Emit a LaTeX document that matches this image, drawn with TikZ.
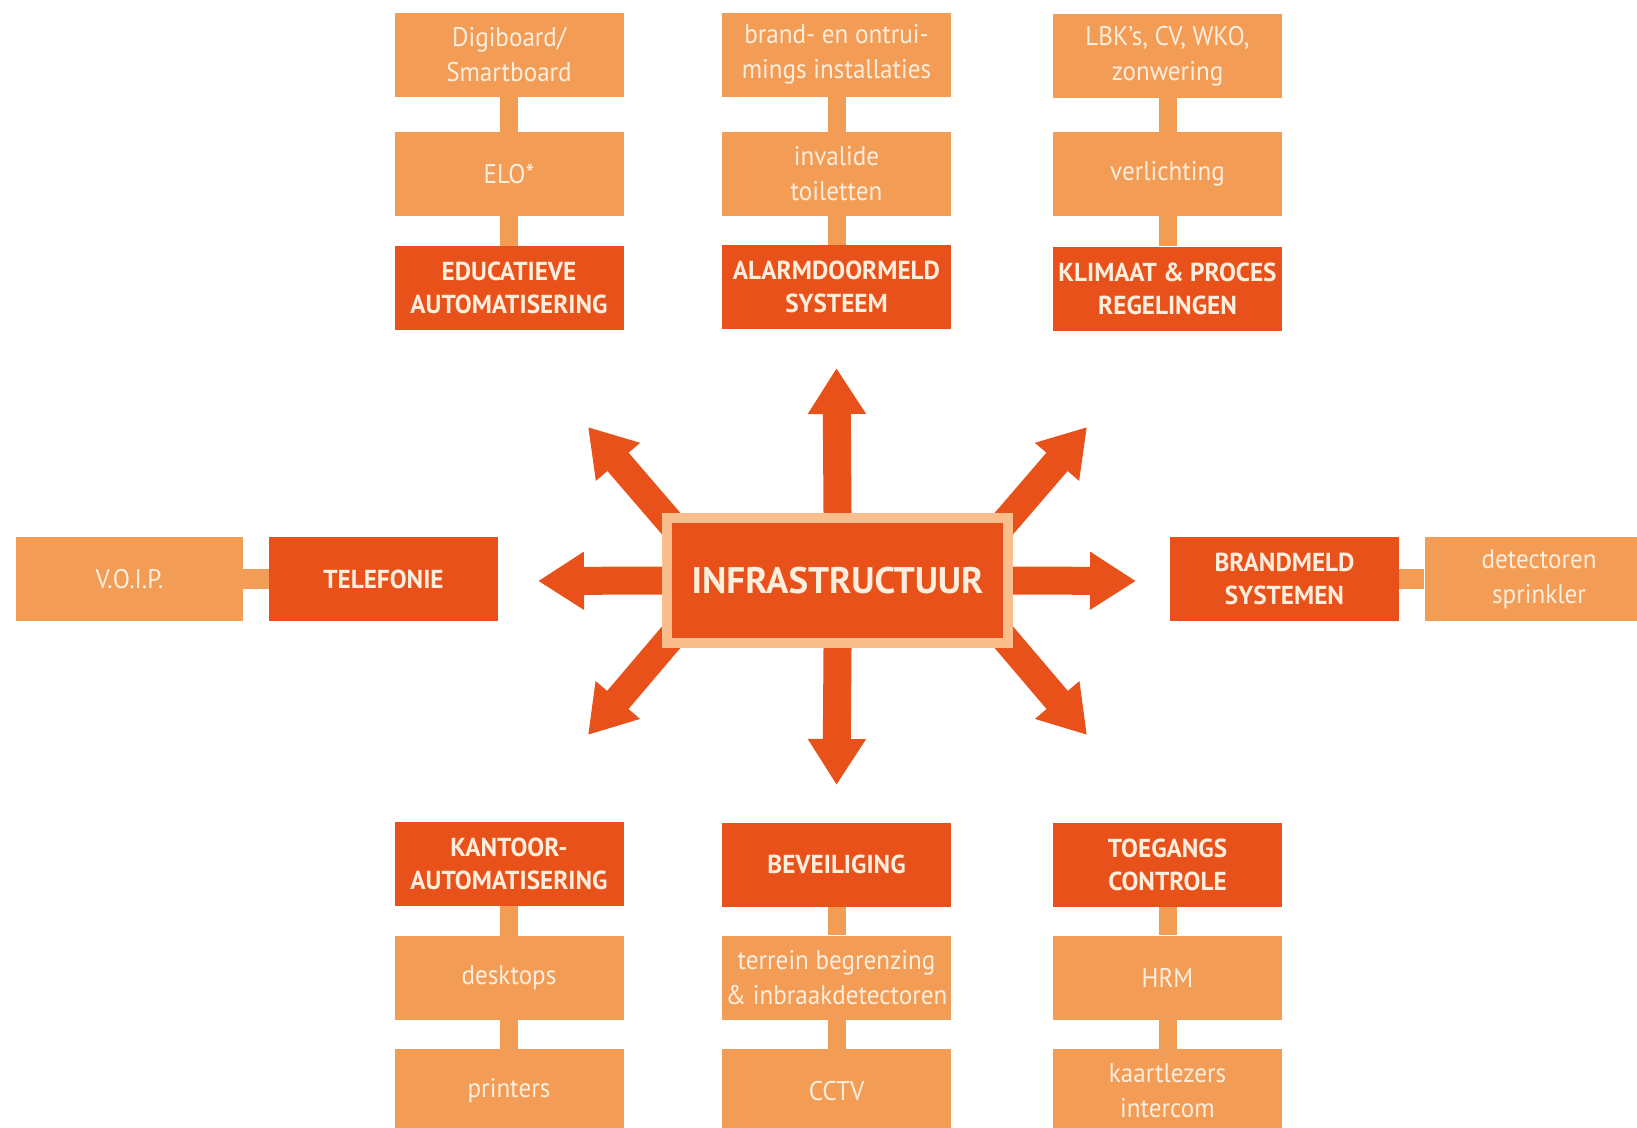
\documentclass[tikz,border=0pt]{standalone}
\usepackage{fontspec}
\setmainfont[FakeStretch=0.97]{PT Sans}
\newfontfamily\lightfont[FakeStretch=0.93]{PT Sans}
\newfontfamily\centrefont{PT Sans}
\usetikzlibrary{arrows.meta,backgrounds,calc}
\definecolor{darkor}{RGB}{232,82,26}
\definecolor{lightor}{RGB}{242,156,86}
\definecolor{rimor}{RGB}{250,190,140}
\definecolor{txtlight}{RGB}{253,238,222}
\tikzset{
  base/.style={minimum width=229pt, minimum height=84pt, inner sep=0pt, align=center, text=txtlight},
  darkbox/.style={base, fill=darkor, font=\fontsize{26}{33}\selectfont\bfseries},
  lightbox/.style={base, fill=lightor, font=\lightfont\fontsize{27}{35}\selectfont},
  conn/.style={draw=lightor, line width=18pt},
  hconn/.style={draw=lightor, line width=20pt},
  bigarrow/.style={draw=darkor, line width=28pt, -{Triangle[width=55pt,length=46pt]}},
}
\begin{document}
\begin{tikzpicture}[x=1pt,y=-1pt]
\clip (0,0) rectangle (1637,1127);
% top row columns
\node[lightbox] (a1) at (509,54.5) {Digiboard/\\Smartboard};
\node[lightbox] (a2) at (509,174) {ELO*};
\node[darkbox]  (a3) at (509,288) {EDUCATIEVE\\AUTOMATISERING};
\node[lightbox] (b1) at (836.5,54.5) {brand- en ontrui-\\mings installaties};
\node[lightbox] (b2) at (836.5,174) {invalide\\toiletten};
\node[darkbox]  (b3) at (836.5,287) {ALARMDOORMELD\\SYSTEEM};
\node[lightbox] (c1) at (1167.5,56) {LBK’s, CV, WKO,\\zonwering};
\node[lightbox] (c2) at (1167.5,174) {verlichting};
\node[darkbox]  (c3) at (1167.5,288.5) {KLIMAAT \& PROCES\\REGELINGEN};
% bottom columns
\node[darkbox]  (d1) at (509,864) {KANTOOR-\\AUTOMATISERING};
\node[lightbox] (d2) at (509,978) {desktops};
\node[lightbox] (d3) at (509,1091) {printers};
\node[darkbox]  (e1) at (836.5,864.5) {BEVEILIGING};
\node[lightbox] (e2) at (836.5,977.5) {terrein begrenzing\\\& inbraakdetectoren};
\node[lightbox] (e3) at (836.5,1091) {CCTV};
\node[darkbox]  (f1) at (1167.5,864.5) {TOEGANGS\\CONTROLE};
\node[lightbox] (f2) at (1167.5,977.5) {HRM};
\node[lightbox] (f3) at (1167.5,1091) {kaartlezers\\intercom};
% side rows
\node[lightbox, minimum width=227pt] (g1) at (129.5,579) {V.O.I.P.};
\node[darkbox]  (g2) at (383.5,579) {TELEFONIE};
\node[darkbox]  (h1) at (1284.5,579) {BRANDMELD\\SYSTEMEN};
\node[lightbox] (h2) at (1539,579) {detectoren\\sprinkler};
% connectors
\draw[conn] (a1.south) -- (a2.north);
\draw[conn] (a2.south) -- (a3.north);
\draw[conn] (b1.south) -- (b2.north);
\draw[conn] (b2.south) -- (b3.north);
\draw[conn] (c1.south) -- (c2.north);
\draw[conn] (c2.south) -- (c3.north);
\draw[conn] (d1.south) -- (d2.north);
\draw[conn] (d2.south) -- (d3.north);
\draw[conn] (e1.south) -- (e2.north);
\draw[conn] (e2.south) -- (e3.north);
\draw[conn] (f1.south) -- (f2.north);
\draw[conn] (f2.south) -- (f3.north);
\draw[hconn] (g1.east) -- (g2.west);
\draw[hconn] (h1.east) -- (h2.west);
% centre
\node[fill=darkor, draw=rimor, line width=10pt, minimum width=341pt, minimum height=125pt,
      inner sep=0pt, text=txtlight, font=\centrefont\fontsize{37}{40}\selectfont\bfseries] (ctr) at (837.5,580.5) {INFRASTRUCTUUR};
\coordinate (tN) at (836.5,368);
\coordinate (tS) at (836.5,785);
\coordinate (tW) at (538,581);
\coordinate (tE) at (1136,581);
\coordinate (tNW) at (588,427);
\coordinate (tNE) at (1087,427);
\coordinate (tSW) at (588,735);
\coordinate (tSE) at (1087,735);
\begin{scope}[on background layer]
\draw[bigarrow] (ctr.north) -- (tN);
\draw[bigarrow] (ctr.south) -- (tS);
\draw[bigarrow] (ctr.west) -- (tW);
\draw[bigarrow] (ctr.east) -- (tE);
\draw[bigarrow] ($(ctr.north west)!-25pt!(tNW)$) -- (tNW);
\draw[bigarrow] ($(ctr.north east)!-25pt!(tNE)$) -- (tNE);
\draw[bigarrow] ($(ctr.south west)!-25pt!(tSW)$) -- (tSW);
\draw[bigarrow] ($(ctr.south east)!-25pt!(tSE)$) -- (tSE);
\end{scope}
\end{tikzpicture}
\end{document}
